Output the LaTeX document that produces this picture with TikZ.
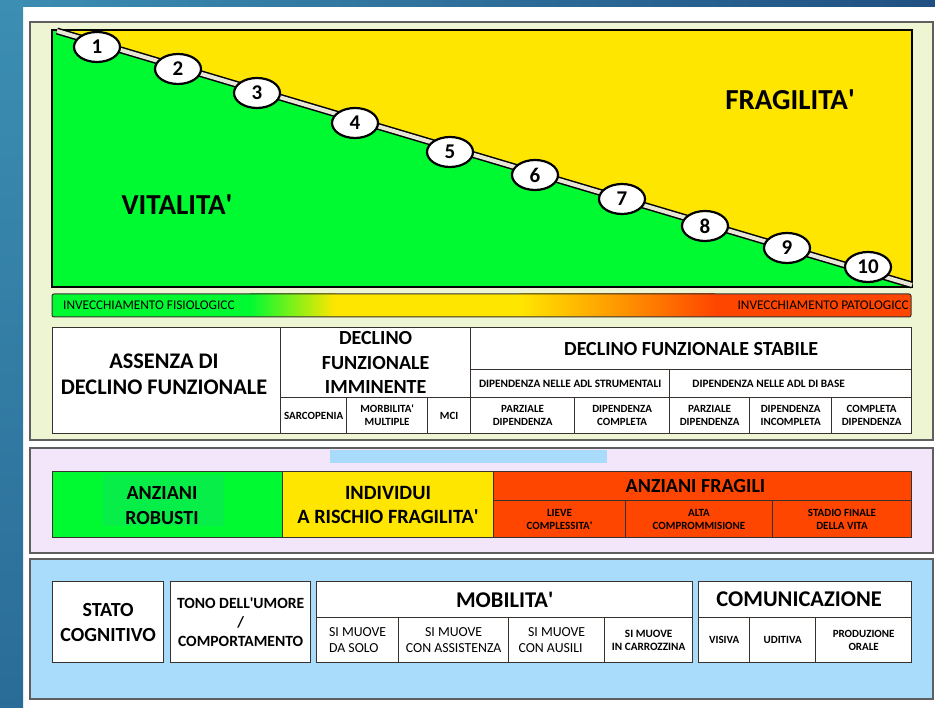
\documentclass[tikz,border=0pt]{standalone}
\usepackage{fontspec}
\setmainfont{Carlito}
\usetikzlibrary{shapes.geometric}
\definecolor{cgreen}{RGB}{0,250,50}
\definecolor{cgreenin}{RGB}{8,238,72}
\definecolor{cyellow}{RGB}{255,230,0}
\definecolor{cred}{RGB}{255,70,0}
\definecolor{corange}{RGB}{255,150,0}
\definecolor{pcream}{RGB}{238,245,210}
\definecolor{plav}{RGB}{243,230,250}
\definecolor{pblue}{RGB}{168,220,250}
\definecolor{bandc}{RGB}{232,230,215}
\definecolor{cellline}{RGB}{55,50,45}
\definecolor{panelline}{RGB}{95,95,95}
\definecolor{bgA}{RGB}{60,142,178}
\definecolor{bgB}{RGB}{32,80,130}
\definecolor{bgC}{RGB}{42,108,152}
\newcommand{\fsz}[2]{\fontsize{#1}{#2}\selectfont}
\newcommand{\ap}{\textquotesingle}
\begin{document}
\begin{tikzpicture}[x=1pt,y=-1pt,
  cell/.style={draw=cellline, line width=1.3pt, fill=white, inner sep=0pt, align=center, anchor=north west},
  smalltxt/.style={font=\fsz{11}{13}\bfseries},
  regtxt/.style={font=\fsz{13.8}{16}},
  numell/.style={ellipse, draw=black, line width=2.2pt, fill=white, minimum width=46pt, minimum height=30pt, inner sep=0pt, font=\fsz{21}{21}\bfseries},
  panel/.style={draw=panelline, line width=1.5pt},
  colcell/.style={draw=cellline, line width=1pt, inner sep=0pt, align=center, anchor=north west}
]
\useasboundingbox (0,0) rectangle (935,708);
\fill[white] (0,0) rectangle (935,708);
\shade[left color=bgA, right color=bgB] (0,0) rectangle (935,7);
\shade[top color=bgA, bottom color=bgC] (0,0) rectangle (23,708);

% ---------- panel 1 ----------
\draw[panel, fill=pcream] (30,22) rectangle (933,440);
\fill[cyellow] (52,30) rectangle (912,287);
\begin{scope}
  \clip (52,30) rectangle (912,287);
  \fill[cgreen] (40,25.95) -- (930,290.3) -- (930,300) -- (40,300) -- cycle;
\end{scope}
\draw[black, line width=2.5pt] (52,30) rectangle (912,287);
\coordinate (bs) at (57,31);
\coordinate (be) at (912,285);
\draw[line width=7pt, black] (bs) -- (be);
\draw[line width=4pt, bandc] (bs) -- (be);
\node[numell] (e1) at (97,47) {1};
\node[numell] (e2) at (178,69) {2};
\node[numell] (e3) at (257,93) {3};
\node[numell] (e4) at (355,123) {4};
\node[numell] (e5) at (450,152) {5};
\node[numell] (e6) at (535,175) {6};
\node[numell] (e7) at (622,199) {7};
\node[numell] (e8) at (705,226) {8};
\node[numell] (e9) at (787,248) {9};
\node[numell] (e10) at (868,267) {10};
\node[font=\fsz{29}{29}\bfseries] (vit) at (177,205) {VITALITA\ap};
\node[font=\fsz{29}{29}\bfseries] (fra) at (790,100) {FRAGILITA\ap};

% gradient bar
\fill[cgreen] (52,294) rectangle (250,317);
\shade[left color=cgreen, right color=cyellow] (250,294) rectangle (335,317);
\fill[cyellow] (335,294) rectangle (520,317);
\shade[left color=cyellow, right color=corange] (520,294) rectangle (620,317);
\shade[left color=corange, right color=cred] (620,294) rectangle (715,317);
\fill[cred] (715,294) rectangle (911,317);
\draw[cellline, line width=1pt, rounded corners=2pt] (52,294) rectangle (911,317);
\node[font=\fsz{13.3}{13.3}, anchor=west, inner sep=0pt] (fis) at (63,305.5) {INVECCHIAMENTO FISIOLOGICC};
\node[font=\fsz{13.3}{13.3}, anchor=east, inner sep=0pt] (pat) at (909,305.5) {INVECCHIAMENTO PATOLOGICC};

% table
\node[cell, minimum width=228, minimum height=106] (assenza) at (52,327) {};
\node[font=\fsz{22.3}{26}\bfseries, align=center] (assenzaT) at (164,374) {ASSENZA DI\\DECLINO FUNZIONALE};
\node[cell, font=\fsz{20}{24.5}\bfseries, minimum width=190, minimum height=70] (immi) at (280,327) {DECLINO\\FUNZIONALE\\IMMINENTE};
\node[cell, smalltxt, minimum width=66, minimum height=36] (sarc) at (280,397) {SARCOPENIA};
\node[cell, smalltxt, minimum width=81, minimum height=36] (morb) at (346,397) {MORBILITA\ap\\MULTIPLE};
\node[cell, smalltxt, minimum width=43, minimum height=36] (mci) at (427,397) {MCI};
\node[cell, font=\fsz{20}{22}\bfseries, minimum width=441, minimum height=42] (stab) at (470,327) {DECLINO FUNZIONALE STABILE};
\node[cell, font=\fsz{11.3}{12}\bfseries, minimum width=199, minimum height=28] (strum) at (470,369) {DIPENDENZA NELLE ADL STRUMENTALI};
\node[cell, font=\fsz{11.3}{12}\bfseries, minimum width=242, minimum height=28] (base) at (669,369) {DIPENDENZA NELLE ADL DI BASE\hspace*{44pt}};
\node[cell, smalltxt, minimum width=104, minimum height=36] (pd1) at (470,397) {PARZIALE\\DIPENDENZA};
\node[cell, smalltxt, minimum width=95, minimum height=36] (dc) at (574,397) {DIPENDENZA\\COMPLETA};
\node[cell, smalltxt, minimum width=80, minimum height=36] (pd2) at (669,397) {PARZIALE\\DIPENDENZA};
\node[cell, smalltxt, minimum width=82, minimum height=36] (di) at (749,397) {DIPENDENZA\\INCOMPLETA};
\node[cell, smalltxt, minimum width=80, minimum height=36] (cd) at (831,397) {COMPLETA\\DIPENDENZA};

% ---------- panel 2 ----------
\draw[panel, fill=plav] (30,448) rectangle (933,553);
\fill[pblue] (330,450) rectangle (607,463);
\node[colcell, fill=cgreen, minimum width=230, minimum height=66] (rob) at (52,471) {};
\fill[cgreenin] (103,475) rectangle (224,526);
\node[font=\fsz{20}{25}\bfseries, align=center] (robT) at (162,506) {ANZIANI\\ROBUSTI};
\node[colcell, fill=cyellow, font=\fsz{20.3}{24}\bfseries, minimum width=211, minimum height=66] (indiv) at (282,471) {INDIVIDUI\\A RISCHIO FRAGILITA\ap};
\node[colcell, fill=cred, font=\fsz{20}{20}\bfseries, minimum width=418, minimum height=29] (frag) at (493,471) {ANZIANI FRAGILI\hspace*{14pt}};
\node[colcell, fill=cred, smalltxt, minimum width=132, minimum height=37] (lieve) at (493,500) {LIEVE\\COMPLESSITA\ap};
\node[colcell, fill=cred, smalltxt, minimum width=147, minimum height=37] (alta) at (625,500) {ALTA\\COMPROMMISIONE};
\node[colcell, fill=cred, smalltxt, minimum width=139, minimum height=37] (stadio) at (772,500) {STADIO FINALE\\DELLA VITA};

% ---------- panel 3 ----------
\draw[panel, fill=pblue] (30,559) rectangle (933,699);
\node[cell, font=\fsz{20}{25}\bfseries, minimum width=111, minimum height=81] (stato) at (52,581) {STATO\\COGNITIVO};
\node[cell, font=\fsz{15.6}{19}\bfseries, minimum width=140, minimum height=81] (tono) at (170,581) {TONO DELL\ap UMORE\\/\\COMPORTAMENTO};
\node[cell, font=\fsz{22.5}{24}\bfseries, minimum width=376, minimum height=36] (mob) at (316,581) {MOBILITA\ap};
\node[cell, regtxt, align=left, minimum width=82, minimum height=45] (solo) at (316,617) {SI MUOVE\\DA SOLO\hspace*{6pt}};
\node[cell, regtxt, minimum width=110, minimum height=45] (assist) at (398,617) {SI MUOVE\\CON ASSISTENZA};
\node[cell, regtxt, minimum width=96, minimum height=45] (ausili) at (508,617) {SI MUOVE\\CON AUSILI\hspace*{12pt}};
\node[cell, font=\fsz{11.2}{12.5}\bfseries, minimum width=88, minimum height=45] (carr) at (604,617) {SI MUOVE\\IN CARROZZINA};
\node[cell, font=\fsz{22.5}{24}\bfseries, minimum width=213, minimum height=36] (com) at (698,581) {COMUNICAZIONE\hspace*{12pt}};
\node[cell, smalltxt, minimum width=51, minimum height=45] (vis) at (698,617) {VISIVA};
\node[cell, smalltxt, minimum width=66, minimum height=45] (udi) at (749,617) {UDITIVA};
\node[cell, smalltxt, minimum width=96, minimum height=45] (prod) at (815,617) {PRODUZIONE\\ORALE};
\end{tikzpicture}
\end{document}
